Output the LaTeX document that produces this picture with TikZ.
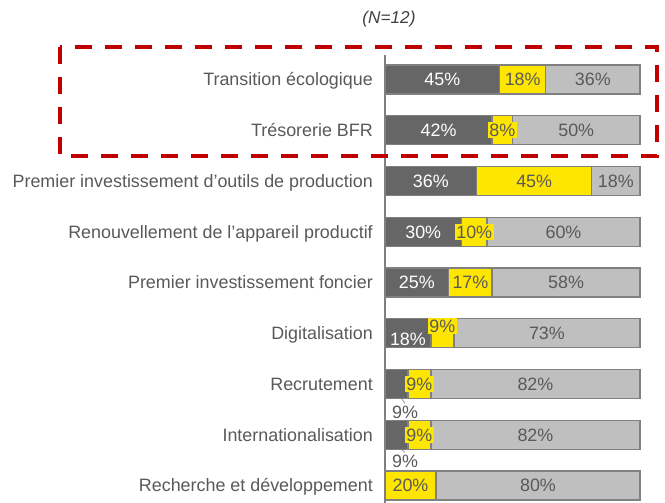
\documentclass[tikz,border=0pt]{standalone}
\usepackage{fontspec}
\setmainfont{Liberation Sans}
\usetikzlibrary{positioning}
\definecolor{bardark}{HTML}{666666}
\definecolor{baryel}{HTML}{FFE600}
\definecolor{barlight}{HTML}{BFBFBF}
\definecolor{barline}{HTML}{808080}
\definecolor{txtgray}{HTML}{595959}
\definecolor{titlegray}{HTML}{404040}
\definecolor{boxred}{HTML}{C00000}
\begin{document}
\begin{tikzpicture}[x=1pt,y=-1pt,
    every node/.style={font=\fontsize{17.9}{20}\selectfont,text height=12.8pt,text depth=0pt},
    seg/.style={draw=barline,line width=1.3pt,minimum height=29pt,inner sep=0pt,
        outer sep=0pt,anchor=west,minimum width=#1*2.55pt},
    segd/.style={seg=#1,fill=bardark,text=white},
    segy/.style={seg=#1,fill=baryel,text=txtgray},
    segl/.style={seg=#1,fill=barlight,text=txtgray},
    ylab/.style={fill=baryel,text=txtgray,inner sep=1.5pt},
    dlab/.style={fill=bardark,text=white,inner sep=1.5pt},
    cat/.style={anchor=east,text=txtgray,inner sep=0pt},
    lead/.style={draw=barline,line width=0.6pt}]

        \useasboundingbox (0,0) rectangle (665,503);

        \node[text=titlegray,font=\fontsize{17.2}{20}\selectfont\itshape] (ttl) at (389,17) {(N=12)};

        \coordinate (axtop) at (385,55);
        \coordinate (axbot) at (385,503);
        \draw[barline,line width=1.5pt] (axtop) -- (axbot);

        \node[cat] (te) at (373,79.5) {Transition écologique};
        \node[segd=45] (te1) at (385,79.5) {45\%};
        \node[segy=18] (te2) at (te1.east) {18\%};
        \node[segl=37] (te3) at (te2.east) {36\%};

        \node[cat] (tb) at (373,130.25) {Trésorerie BFR};
        \node[segd=42] (tb1) at (385,130.25) {42\%};
        \node[segy=8] (tb2) at (tb1.east) {};
        \node[segl=50] (tb3) at (tb2.east) {50\%};
        \node[ylab] (tb2l) at (tb2.center) {8\%};

        \node[cat] (po) at (373,181) {Premier investissement d’outils de production};
        \node[segd=36] (po1) at (385,181) {36\%};
        \node[segy=45] (po2) at (po1.east) {45\%};
        \node[segl=19] (po3) at (po2.east) {18\%};

        \node[cat] (ra) at (373,231.75) {Renouvellement de l’appareil productif};
        \node[segd=30] (ra1) at (385,231.75) {30\%};
        \node[segy=10] (ra2) at (ra1.east) {};
        \node[segl=60] (ra3) at (ra2.east) {60\%};
        \node[ylab] (ra2l) at (ra2.center) {10\%};

        \node[cat] (pf) at (373,282.5) {Premier investissement foncier};
        \node[segd=25] (pf1) at (385,282.5) {25\%};
        \node[segy=17] (pf2) at (pf1.east) {17\%};
        \node[segl=58] (pf3) at (pf2.east) {58\%};

        \node[cat] (dg) at (373,333.25) {Digitalisation};
        \node[segd=18] (dg1) at (385,333.25) {};
        \node[segy=9] (dg2) at (dg1.east) {};
        \node[segl=73] (dg3) at (dg2.east) {73\%};
        \node[dlab] (dg1l) at ([yshift=-6pt]dg1.center) {18\%};
        \node[ylab] (dg2l) at ([yshift=7pt]dg2.center) {9\%};

        \node[cat] (re) at (373,384) {Recrutement};
        \node[segd=9] (re1) at (385,384) {};
        \node[segy=9] (re2) at (re1.east) {};
        \node[segl=82] (re3) at (re2.east) {82\%};
        \node[ylab] (re2l) at (re2.center) {9\%};
        \node[text=txtgray,inner sep=2pt] (re1l) at (405,412) {9\%};
        \draw[lead] ([xshift=5pt]re1.south) -- (re1l.north);

        \node[cat] (in) at (373,434.75) {Internationalisation};
        \node[segd=9] (in1) at (385,434.75) {};
        \node[segy=9] (in2) at (in1.east) {};
        \node[segl=82] (in3) at (in2.east) {82\%};
        \node[ylab] (in2l) at (in2.center) {9\%};
        \node[text=txtgray,inner sep=2pt] (in1l) at (405,461) {9\%};
        \draw[lead] ([xshift=5pt]in1.south) -- (in1l.north);

        \node[cat] (rd) at (373,485.5) {Recherche et développement};
        \node[segy=20] (rd1) at (385,485.5) {20\%};
        \node[segl=80] (rd2) at (rd1.east) {80\%};

        \draw[boxred,line width=3.5pt,dash pattern=on 17pt off 13pt] (60,47) rectangle (657,156);
    \end{tikzpicture}
\end{document}
